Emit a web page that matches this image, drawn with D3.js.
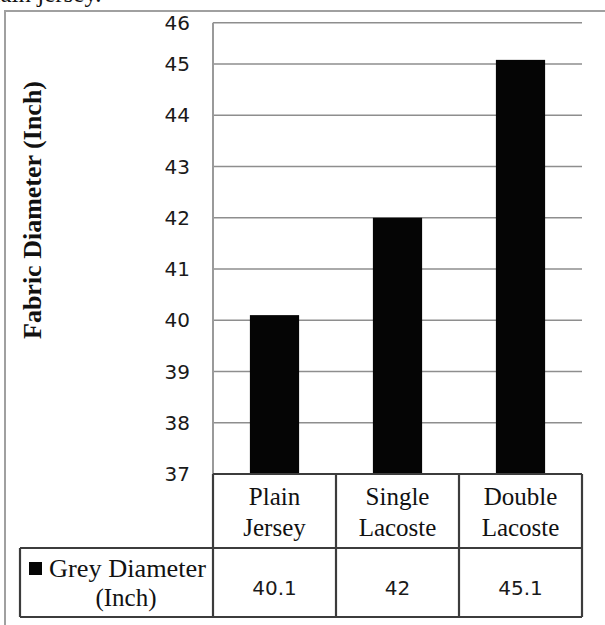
<!DOCTYPE html>
<html>
<head>
<meta charset="utf-8">
<script src="https://cdn.jsdelivr.net/npm/d3@7"></script>
<style>
  html, body { margin: 0; padding: 0; background: #fff; }
  svg { display: block; }
</style>
</head>
<body>
<svg id="chart" width="605" height="625"></svg>
<script>
// Fabric diameter by knit structure
const categories = [["Plain", "Jersey"], ["Single", "Lacoste"], ["Double", "Lacoste"]];
const greyDiameter = [40.1, 42, 45.1];
const yTicks = [37, 38, 39, 40, 41, 42, 43, 44, 45, 46];
const seriesName = ["Grey Diameter", "(Inch)"];
const yTitle = "Fabric Diameter (Inch)";

const svg = d3.select("#chart");
const serif = "'Liberation Serif', 'Times New Roman', serif";
const sans = "'DejaVu Sans', sans-serif";

const plotLeft = 213, plotRight = 582, plotBottom = 474;
const tableMid = 548, tableBottom = 617, legendLeft = 20;

// value axis (top segment is compressed in the layout)
const y = d3.scaleLinear().domain([37, 45, 46]).range([plotBottom, 64, 22.7]);
const x = d3.scaleBand().domain(d3.range(categories.length)).range([plotLeft, plotRight]).paddingInner(0);
const barW = x.bandwidth() * 0.4;

// caption tail from the page above
svg.append("text")
  .attr("x", -19).attr("y", 2)
  .attr("font-family", serif).attr("font-size", 25).attr("fill", "#111")
  .text("plain jersey.");

// outer frame
svg.append("rect")
  .attr("x", 5).attr("y", 11).attr("width", 720).attr("height", 720)
  .attr("fill", "none").attr("stroke", "#a0a0a0").attr("stroke-width", 2);

// gridlines
svg.append("g").selectAll("line")
  .data(yTicks.filter(d => d > 37))
  .join("line")
  .attr("x1", plotLeft).attr("x2", plotRight)
  .attr("y1", d => y(d)).attr("y2", d => y(d))
  .attr("stroke", "#8e8e8e").attr("stroke-width", 1.6);

// plot left border
svg.append("line")
  .attr("x1", plotLeft).attr("x2", plotLeft)
  .attr("y1", y(46)).attr("y2", plotBottom)
  .attr("stroke", "#9a9a9a").attr("stroke-width", 2);

// y tick labels
svg.append("g").selectAll("text")
  .data(yTicks)
  .join("text")
  .attr("x", 190)
  .attr("y", d => y(d))
  .attr("dy", "0.36em")
  .attr("text-anchor", "end")
  .attr("font-family", sans).attr("font-size", 20).attr("fill", "#1a1a1a")
  .text(d => d);

// y axis title
svg.append("text")
  .attr("transform", "translate(41,210) rotate(-90)")
  .attr("text-anchor", "middle")
  .attr("font-family", serif).attr("font-size", 26).attr("font-weight", "bold").attr("fill", "#111")
  .text(yTitle);

// bars
svg.append("g").selectAll("rect")
  .data(greyDiameter)
  .join("rect")
  .attr("x", (d, i) => x(i) + (x.bandwidth() - barW) / 2)
  .attr("width", barW)
  .attr("y", d => y(d))
  .attr("height", d => plotBottom - y(d))
  .attr("fill", "#050505");

// data table
const tbl = svg.append("g").attr("stroke", "#3c3c3c").attr("stroke-width", 2.2);
tbl.append("line").attr("x1", plotLeft).attr("x2", plotRight).attr("y1", plotBottom).attr("y2", plotBottom);
tbl.append("line").attr("x1", legendLeft).attr("x2", plotRight).attr("y1", tableMid).attr("y2", tableMid);
tbl.append("line").attr("x1", legendLeft).attr("x2", plotRight).attr("y1", tableBottom).attr("y2", tableBottom);
tbl.append("line").attr("x1", legendLeft).attr("x2", legendLeft).attr("y1", tableMid).attr("y2", tableBottom);
tbl.selectAll("line.col")
  .data(d3.range(categories.length + 1))
  .join("line").attr("class", "col")
  .attr("x1", i => i < categories.length ? x(i) : plotRight)
  .attr("x2", i => i < categories.length ? x(i) : plotRight)
  .attr("y1", plotBottom).attr("y2", tableBottom);

// category headers
const head = svg.append("g").selectAll("text")
  .data(categories)
  .join("text")
  .attr("text-anchor", "middle")
  .attr("font-family", serif).attr("font-size", 25).attr("fill", "#111");
head.selectAll("tspan")
  .data((d, i) => d.map((t, j) => ({ t, j, i })))
  .join("tspan")
  .attr("x", d => x(d.i) + x.bandwidth() / 2)
  .attr("y", d => 505 + d.j * 31)
  .text(d => d.t);

// values row
svg.append("g").selectAll("text")
  .data(greyDiameter)
  .join("text")
  .attr("x", (d, i) => x(i) + x.bandwidth() / 2)
  .attr("y", 595)
  .attr("text-anchor", "middle")
  .attr("font-family", sans).attr("font-size", 20).attr("fill", "#1a1a1a")
  .text(d => d);

// legend key
svg.append("rect")
  .attr("x", 29).attr("y", 562).attr("width", 13).attr("height", 13)
  .attr("fill", "#050505");
svg.append("text")
  .attr("x", 49).attr("y", 577)
  .attr("font-family", serif).attr("font-size", 25).attr("fill", "#111")
  .attr("textLength", 157).attr("lengthAdjust", "spacingAndGlyphs")
  .text(seriesName[0]);
svg.append("text")
  .attr("x", 126).attr("y", 606)
  .attr("text-anchor", "middle")
  .attr("font-family", serif).attr("font-size", 25).attr("fill", "#111")
  .text(seriesName[1]);
</script>
</body>
</html>
